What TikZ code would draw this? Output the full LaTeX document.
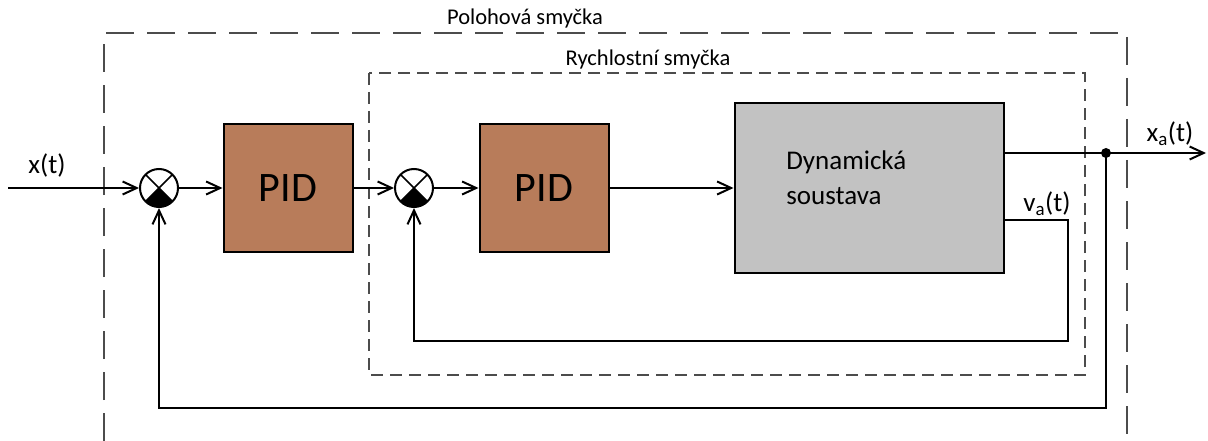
\documentclass[tikz,border=0pt]{standalone}
\usepackage{fontspec}
\setmainfont{Carlito}
\usetikzlibrary{arrows.meta}

\begin{document}
\begin{tikzpicture}[x=1pt,y=-1pt,line width=2pt,
  >={Straight Barb[length=14pt,width=13pt]},
  sumnode/.style={circle,draw,minimum size=38pt,inner sep=0pt,fill=white,
    path picture={
      \draw[line width=1.6pt] (path picture bounding box.north west)--(path picture bounding box.south east)
        (path picture bounding box.north east)--(path picture bounding box.south west);
      \fill[black] (path picture bounding box.center)--(path picture bounding box.south west)
        --(path picture bounding box.south east)--cycle;}},
  pidbox/.style={draw,fill=pidbrown,minimum width=129pt,minimum height=127pt,
    font=\fontsize{42}{46}\selectfont},
  loopbox/.style={draw=black!70,line width=1.8pt},
  lbl/.style={font=\fontsize{27}{30}\selectfont,inner sep=0pt}]
  \definecolor{pidbrown}{RGB}{184,124,90}
  \definecolor{plantgray}{RGB}{194,194,194}
  \useasboundingbox (0,0) rectangle (1208,441);

  % smycky
  \draw[loopbox,dash pattern=on 28pt off 13pt] (104,441)--(104,33)--(1127,33)--(1127,441);
  \draw[loopbox,dash pattern=on 12pt off 7pt] (369,73) rectangle (1085,375);
  \node[lbl,font=\fontsize{22.5}{26}\selectfont] (poloha) at (525,19) {Polohová smyčka};
  \node[lbl,font=\fontsize{22.5}{26}\selectfont] (rychlost) at (648,60) {Rychlostní smyčka};

  % bloky
  \node[sumnode] (s1) at (159,188) {};
  \node[pidbox] (pid1) at (288,188) {PID};
  \node[sumnode] (s2) at (414,188) {};
  \node[pidbox] (pid2) at (544,188) {PID};
  \node[draw,fill=plantgray,minimum width=269pt,minimum height=169pt] (plant) at (869,188) {};
  \node[font=\fontsize{27}{35}\selectfont,align=left,anchor=north west] (plantlbl) at (782,146)
    {Dynamická\\soustava};

  \coordinate (in) at (8,188);
  \coordinate (tap) at (1106,153);
  \coordinate (xout) at (1206,153);
  \coordinate (va) at (1068,220);
  \fill (tap) circle (5pt);

  \node[lbl] (xlbl) at (47,165) {x(t)};
  \node[lbl] (xalbl) at (1170,134) {x\textsubscript{a}(t)};
  \node[lbl] (valbl) at (1047,204) {v\textsubscript{a}(t)};

  \draw[->] (in)--(s1);
  \draw[->] (s1)--(pid1);
  \draw[->] (pid1)--(s2);
  \draw[->] (s2)--(pid2);
  \draw[->] (pid2)--(plant);
  \draw[->] (plant.east |- tap)--(xout);
  \draw[->] (tap)--(1106,408)--(s1.south |- 0,408)--(s1.south);
  \draw[->] (plant.east |- va)--(va)--(1068,341)--(s2.south |- 0,341)--(s2.south);
\end{tikzpicture}
\end{document}
